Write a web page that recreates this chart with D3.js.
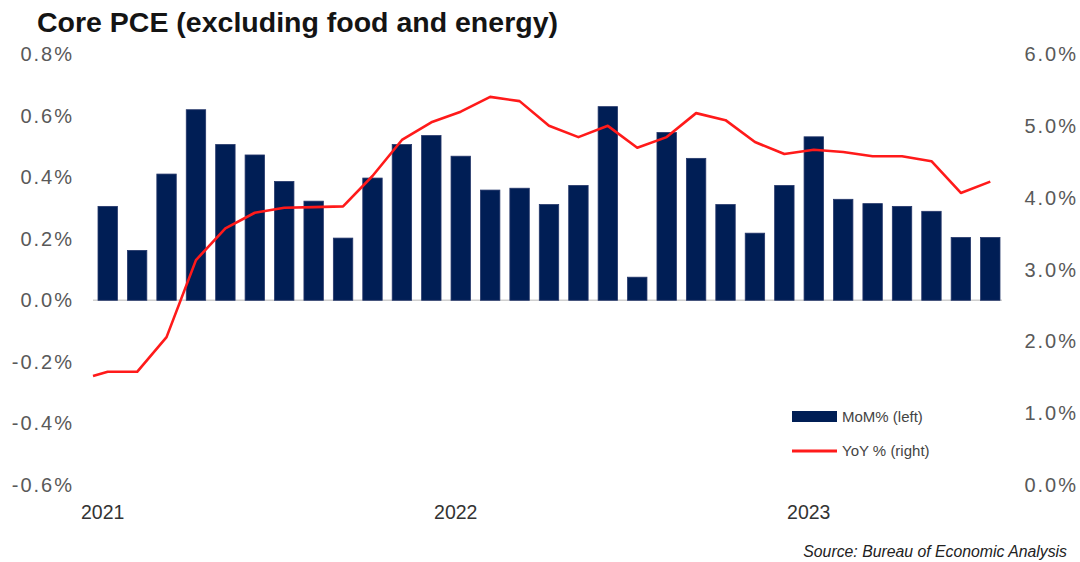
<!DOCTYPE html>
<html>
<head>
<meta charset="utf-8">
<script src="https://cdn.jsdelivr.net/npm/d3@7"></script>
<style>
  body { margin: 0; background: #fff; }
  svg { font-family: "Liberation Sans", Arial, sans-serif; }
  .tick-label { fill: #595959; font-size: 20px; letter-spacing: 2px; }
  .year-label { fill: #333; font-size: 19.5px; }
</style>
</head>
<body>
<div id="chart"></div>
<script>
// months Jan 2021 .. Jul 2023
const months = d3.range(31).map((i) => new Date(2021, i, 1));
const yearLabels = ['2021', '2022', '2023'];

// MoM % (left axis)
const momValues = [
  0.305, 0.162, 0.41, 0.619, 0.506, 0.472, 0.386, 0.322, 0.202, 0.397, 0.506, 0.535,
  0.468, 0.358, 0.364, 0.311, 0.373, 0.629, 0.075, 0.545, 0.461, 0.311, 0.218, 0.373,
  0.531, 0.328, 0.314, 0.305, 0.289, 0.204, 0.204,
];

// YoY % (right axis), first value is Dec 2020 at the left edge
const yoyValues = [
  1.517, 1.576, 1.576, 2.059, 3.131, 3.573, 3.79, 3.859, 3.869, 3.879, 4.302, 4.803,
  5.049, 5.197, 5.403, 5.344, 5.0, 4.843, 5.0, 4.695, 4.843, 5.177, 5.079, 4.774,
  4.607, 4.666, 4.636, 4.577, 4.577, 4.508, 4.066, 4.223,
];

const leftTicks = [-0.6, -0.4, -0.2, 0, 0.2, 0.4, 0.6, 0.8];
const rightTicks = [0, 1, 2, 3, 4, 5, 6];

const width = 1080, height = 562;
const plot = { left: 93, right: 1005, top: 54, bottom: 485 };

const svg = d3.select('#chart').append('svg')
  .attr('width', width)
  .attr('height', height);

const x = d3.scaleBand()
  .domain(d3.range(months.length))
  .range([plot.left, plot.right])
  .paddingInner(0.34)
  .paddingOuter(0.17);

const yLeft = d3.scaleLinear().domain([-0.6, 0.8]).range([plot.bottom, plot.top]);
const yRight = d3.scaleLinear().domain([0, 6]).range([plot.bottom, plot.top]);

// plain hyphen instead of the unicode minus
const fmt = (d) => `${d3.format('.1f')(d).replace('\u2212', '-')}%`;

// title
svg.append('text')
  .attr('x', 37)
  .attr('y', 32)
  .attr('font-size', 28.5)
  .attr('fill', '#141414')
  .attr('font-weight', 'bold')
  .text('Core PCE (excluding food and energy)');

// left axis labels
svg.append('g').selectAll('text')
  .data(leftTicks)
  .join('text')
  .attr('class', 'tick-label')
  .attr('x', 74)
  .attr('y', (d) => yLeft(d))
  .attr('dy', '0.35em')
  .attr('text-anchor', 'end')
  .text(fmt);

// right axis labels
svg.append('g').selectAll('text')
  .data(rightTicks)
  .join('text')
  .attr('class', 'tick-label')
  .attr('x', 1078)
  .attr('y', (d) => yRight(d))
  .attr('dy', '0.35em')
  .attr('text-anchor', 'end')
  .text(fmt);

// zero line
svg.append('line')
  .attr('x1', plot.left)
  .attr('x2', plot.right - 3)
  .attr('y1', yLeft(0))
  .attr('y2', yLeft(0))
  .attr('stroke', '#d0d0d0')
  .attr('stroke-width', 1.5);

// bars
svg.append('g').selectAll('rect')
  .data(momValues)
  .join('rect')
  .attr('x', (d, i) => x(i))
  .attr('width', x.bandwidth())
  .attr('y', (d) => yLeft(Math.max(0, d)))
  .attr('height', (d) => Math.abs(yLeft(d) - yLeft(0)))
  .attr('fill', '#001e55')
  .attr('stroke', '#25376a')
  .attr('stroke-width', 0.8);

// line: first point sits at the left plot edge, the rest at bar centres
const cx = (i) => x(i) + x.bandwidth() / 2;
const lineX = (d, i) => (i === 0 ? plot.left : cx(i - 1));
const line = d3.line()
  .x(lineX)
  .y((d) => yRight(d));

svg.append('path')
  .datum(yoyValues)
  .attr('d', line)
  .attr('fill', 'none')
  .attr('stroke', '#ff1a1a')
  .attr('stroke-width', 2.6)
  .attr('stroke-linejoin', 'round');

// year labels
svg.append('g').selectAll('text')
  .data(yearLabels)
  .join('text')
  .attr('class', 'year-label')
  .attr('x', (d, i) => cx(i * 12) - 5)
  .attr('y', 519)
  .attr('text-anchor', 'middle')
  .text((d) => d);

// legend
const legend = svg.append('g').attr('transform', 'translate(792,0)');
legend.append('rect')
  .attr('x', 0).attr('y', 411)
  .attr('width', 45).attr('height', 11)
  .attr('fill', '#001e55');
legend.append('text')
  .attr('x', 50).attr('y', 417).attr('dy', '0.35em')
  .attr('font-size', 15).attr('fill', '#444')
  .text('MoM% (left)');
legend.append('line')
  .attr('x1', 0).attr('x2', 45)
  .attr('y1', 451).attr('y2', 451)
  .attr('stroke', '#ff1a1a').attr('stroke-width', 3);
legend.append('text')
  .attr('x', 50).attr('y', 451).attr('dy', '0.35em')
  .attr('font-size', 15).attr('fill', '#444')
  .text('YoY % (right)');

// source
svg.append('text')
  .attr('x', 1067)
  .attr('y', 557)
  .attr('text-anchor', 'end')
  .attr('font-size', 15.8)
  .attr('font-style', 'italic')
  .attr('fill', '#222')
  .text('Source: Bureau of Economic Analysis');
</script>
</body>
</html>
